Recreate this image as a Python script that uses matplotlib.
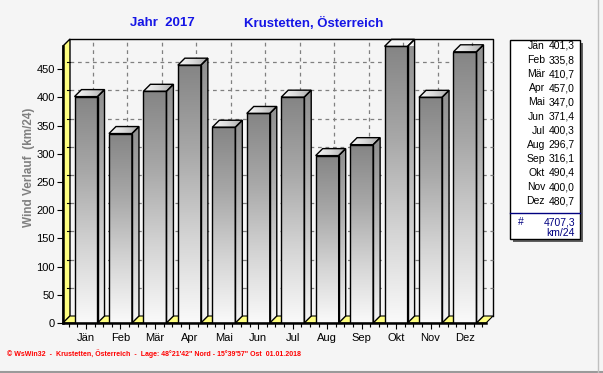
import numpy as np
import matplotlib
matplotlib.use("Agg")
import matplotlib.pyplot as plt
from matplotlib.patches import Polygon, Rectangle
from matplotlib.lines import Line2D

# ---------------- data ----------------
months = ["Jän", "Feb", "Mär", "Apr", "Mai", "Jun", "Jul", "Aug", "Sep", "Okt", "Nov", "Dez"]
values = [401.3, 335.8, 410.7, 457.0, 347.0, 371.4, 400.3, 296.7, 316.1, 490.4, 400.0, 480.7]
value_labels = ["401,3", "335,8", "410,7", "457,0", "347,0", "371,4", "400,3", "296,7",
                "316,1", "490,4", "400,0", "480,7"]
total_label = "4707,3"
unit_label = "km/24"
yticks = [0, 50, 100, 150, 200, 250, 300, 350, 400, 450]
title_left = "Jahr  2017"
title_right = "Krustetten, Österreich"
ylabel = "Wind Verlauf  (km/24)"
footer = "© WsWin32  -  Krustetten, Österreich  -  Lage: 48°21'42\" Nord - 15°39'57\" Ost  01.01.2018"

W, H = 603, 373
plt.rcParams['font.family'] = ['Liberation Sans', 'DejaVu Sans']
fig = plt.figure(figsize=(W / 100, H / 100), dpi=100)
fig.patch.set_facecolor("#f5f5f5")

def fx(px):
    return px / W

def fy(py):
    return 1 - py / H

# front plane in pixels
L, R, B, T = 63, 486, 323, 46
ax = fig.add_axes([fx(L), fy(B), fx(R - L), (B - T) / H])
ax.set_facecolor("none")
xl, xr = -0.668, 11.61
ymax = 491.0
ax.set_xlim(xl, xr)
ax.set_ylim(0, ymax)

# depth offsets (7 px) in data units
px_x = (xr - xl) / (R - L)
px_y = ymax / (B - T)
dx = 7 * px_x
dy = 7 * px_y

yellow = "#ffff80"
# left wall
ax.add_patch(Polygon([(xl, 0), (xl + dx, dy), (xl + dx, ymax + dy), (xl, ymax)],
                     closed=True, facecolor=yellow, edgecolor="black", lw=1, clip_on=False, zorder=1))
# floor
ax.add_patch(Polygon([(xl, 0), (xr, 0), (xr + dx, dy), (xl + dx, dy)],
                     closed=True, facecolor=yellow, edgecolor="black", lw=0.8, clip_on=False, zorder=1))
# back plane border
ax.add_line(Line2D([xl + dx, xr + dx, xr + dx], [ymax + dy, ymax + dy, dy],
                   color="black", lw=1, clip_on=False, zorder=1))
# grid on back plane
for v in yticks[1:]:
    ax.add_line(Line2D([xl + dx, xr + dx], [v + dy, v + dy], color="#808080", lw=0.9,
                       dashes=(3, 3), clip_on=False, zorder=1))
    ax.add_line(Line2D([xl + dx - 3 * px_x, xl + dx], [v + dy, v + dy], color="black", lw=0.8,
                       clip_on=False, zorder=2))
for i in range(len(months)):
    ax.add_line(Line2D([i + dx, i + dx], [dy, ymax + dy], color="#808080", lw=0.9,
                       dashes=(3, 3), clip_on=False, zorder=1))

# bars
bw = 0.668
grad_v = np.linspace(0, 1, 256).reshape(-1, 1)  # 0 bottom -> 1 top
cmap_front = matplotlib.colors.LinearSegmentedColormap.from_list(
    "front", ["#fafafa", "#d4d4d4", "#a8a8a8", "#858585"])
cmap_side = matplotlib.colors.LinearSegmentedColormap.from_list(
    "side", ["#f6f6f6", "#d0d0d0", "#acacac", "#909090"])
cmap_top = matplotlib.colors.LinearSegmentedColormap.from_list(
    "top", ["#f8f8f8", "#d8d8d8", "#a8a8a8"])

xs = np.arange(len(months))
bars = ax.bar(xs, values, width=bw, facecolor="none", edgecolor="black", lw=1, zorder=5)
for rect, v in zip(bars, values):
    x0 = rect.get_x()
    x1 = x0 + rect.get_width()
    # front gradient
    im = ax.imshow(grad_v, cmap=cmap_front, origin="lower", aspect="auto",
                   extent=(x0, x1, 0, v), zorder=4, interpolation="bilinear")
    im.set_clip_path(rect)
    # side face
    side = Polygon([(x1, 0), (x1 + dx, dy), (x1 + dx, v + dy), (x1, v)], closed=True,
                   facecolor="none", edgecolor="black", lw=1, clip_on=False, zorder=5)
    ax.add_patch(side)
    im2 = ax.imshow(grad_v, cmap=cmap_side, origin="lower", aspect="auto",
                    extent=(x1, x1 + dx, 0, v + dy), zorder=4, interpolation="bilinear")
    im2.set_clip_path(side)
    # top face
    top = Polygon([(x0, v), (x0 + dx, v + dy), (x1 + dx, v + dy), (x1, v)], closed=True,
                  facecolor="none", edgecolor="black", lw=1, clip_on=False, zorder=5)
    ax.add_patch(top)
    grad_h = np.linspace(0, 1, 64).reshape(1, -1)
    im3 = ax.imshow(grad_h, cmap=cmap_top, origin="lower", aspect="auto",
                    extent=(x0, x1 + dx, v, v + dy), zorder=4, interpolation="bilinear")
    im3.set_clip_path(top)

ax.set_xlim(xl, xr)
ax.set_ylim(0, ymax)

# axes styling
for s in ["top", "right"]:
    ax.spines[s].set_visible(False)
for s in ["left", "bottom"]:
    ax.spines[s].set_linewidth(1.8)
    ax.spines[s].set_color("black")
    ax.spines[s].set_zorder(6)
ax.set_yticks(yticks)
ax.set_yticklabels([str(t) for t in yticks])
ax.set_xticks(xs)
ax.set_xticklabels(months)
ax.set_xticks(np.arange(-0.5, 11.51, 0.25), minor=True)
ax.tick_params(axis="y", direction="out", length=4, width=0.8, pad=2, labelsize=8)
ax.tick_params(axis="x", which="major", direction="out", length=4, width=0.8, pad=3, labelsize=8)
ax.tick_params(axis="x", which="minor", direction="out", length=3, width=0.8)

# y label
fig.text(fx(29), fy(167), ylabel, color="#808080", fontsize=8.5, fontweight="bold",
         rotation=90, ha="center", va="center")

# titles
fig.text(fx(162), fy(23), title_left, color="#1515e6", fontsize=9.5, fontweight="bold",
         ha="center", va="center")
fig.text(fx(314), fy(23), title_right, color="#1515e6", fontsize=9.5, fontweight="bold",
         ha="center", va="center")

# legend panel
lx0, lx1, ly0, ly1 = 510, 580, 40, 239
fig.patches.append(Rectangle((fx(lx0 + 3), fy(ly1 + 3)), fx(lx1 - lx0), (ly1 - ly0) / H,
                             transform=fig.transFigure, facecolor="#606060", edgecolor="none",
                             zorder=1))
fig.patches.append(Rectangle((fx(lx0), fy(ly1)), fx(lx1 - lx0), (ly1 - ly0) / H,
                             transform=fig.transFigure, facecolor="white", edgecolor="black",
                             lw=1, zorder=2))
fig.lines.append(Line2D([fx(lx0), fx(lx1)], [fy(212.5), fy(212.5)], transform=fig.transFigure,
                        color="#000080", lw=1, zorder=3))
for i, (m, lab) in enumerate(zip(months, value_labels)):
    yy = 46 + i * 14.1
    fig.text(fx(545), fy(yy), m, fontsize=7.5, ha="right", va="center", zorder=4)
    fig.text(fx(575), fy(yy), lab, fontsize=7.5, ha="right", va="center", zorder=4)
fig.text(fx(518), fy(222.5), "#", fontsize=7.5, color="#000080", ha="left", va="center", zorder=4)
fig.text(fx(575), fy(222.5), total_label, fontsize=7.5, color="#000080", ha="right", va="center", zorder=4)
fig.text(fx(575), fy(233), unit_label, fontsize=7.5, color="#000080", ha="right", va="center", zorder=4)

# footer
fig.text(fx(7), fy(354), footer, color="#ff0000", fontsize=5, fontweight="bold",
         ha="left", va="center")

# frame lines at bottom / right
fig.lines.append(Line2D([0, 1], [fy(372), fy(372)], transform=fig.transFigure, color="#9a9a9a", lw=1.5))
fig.lines.append(Line2D([fx(598), fx(598)], [fy(372), 1], transform=fig.transFigure, color="#c0c0c0", lw=1))

fig.savefig("out.png", dpi=100, facecolor=fig.get_facecolor())
